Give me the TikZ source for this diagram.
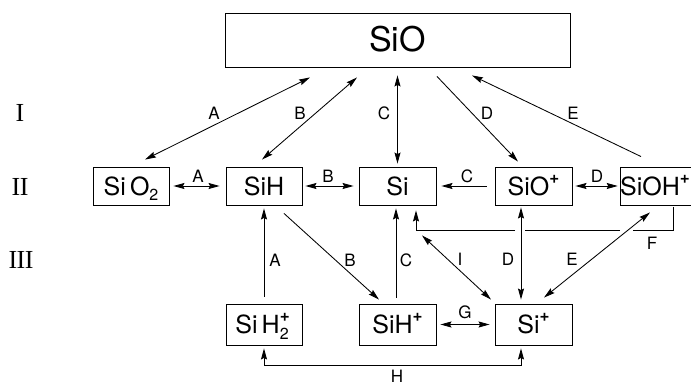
\documentclass[tikz,border=0pt]{standalone}
\usepackage{fontspec}
\setmainfont{TeX Gyre Heros}
\newfontfamily\romanfont{Liberation Serif}
\usetikzlibrary{arrows.meta,calc}
\newcommand{\supp}{\raisebox{0.48em}{\fontsize{17}{17}\selectfont\textbf{+}}}
\newcommand{\stk}{\makebox[0pt][l]{\raisebox{0.5em}{\fontsize{17}{17}\selectfont\textbf{+}}}\raisebox{-0.22em}{\fontsize{16}{16}\selectfont 2}}
\newcommand{\subtwo}{\raisebox{-0.22em}{\fontsize{16}{16}\selectfont 2}}
\begin{document}
\begin{tikzpicture}[x=1pt,y=-1pt,
  box/.style={draw,line width=0.9pt,inner sep=0pt,minimum width=76pt,minimum height=38pt,
    text height=22pt,text depth=4pt,font=\fontsize{25}{25}\selectfont},
  lab/.style={inner sep=0pt,font=\fontsize{17}{17}\selectfont},
  rom/.style={inner sep=0pt,font=\romanfont\fontsize{26}{26}\selectfont},
  conn/.style={line width=0.85pt},
  arr/.style={conn,-{Stealth[length=11pt,width=6pt,inset=1.5pt]}},
  darr/.style={conn,{Stealth[length=11pt,width=6pt,inset=1.5pt]}-{Stealth[length=11pt,width=6pt,inset=1.5pt]}}]
\useasboundingbox (0,0) rectangle (691,385);

% boxes
\node[box,minimum width=345pt,minimum height=54pt,text height=30pt,text depth=6pt,
  font=\fontsize{34}{34}\selectfont] (sio) at (397.5,40) {SiO};
\node[box] (sio2) at (131,186) {Si\,O\subtwo};
\node[box] (sih) at (264,186) {SiH};
\node[box,minimum width=77pt] (si) at (397.5,186) {Si};
\node[box,minimum width=77pt] (siop) at (533.5,186) {SiO\supp};
\node[box,minimum width=78pt] (sioh) at (661,186) {SiOH\supp\kern12pt};
\node[box,minimum height=41pt] (sih2p) at (264,324.5) {Si\,H\stk\kern4pt};
\node[box,minimum width=77pt,minimum height=41pt] (sihp) at (397.5,324.5) {SiH\supp};
\node[box,minimum width=77pt,minimum height=41pt] (sip) at (533.5,324.5) {Si\supp};

% roman numerals
\node[rom] (r1) at (20,113) {I};
\node[rom] (r2) at (20,187) {I\kern-0.5ptI};
\node[rom] (r3) at (21,260) {I\kern-0.5ptI\kern-0.5ptI};

% level I connectors
\draw[darr] ($(sio.south)+(-87.5,10)$) -- ($(sio2.north)+(14,-7)$);
\draw[darr] ($(sio.south)+(-40.5,10)$) -- ($(sih.north)+(-2,-7)$);
\draw[darr] ($(sio.south)+(0,8)$) -- ($(si.north)+(0,-3)$);
\draw[arr] ($(sio.south)+(39.5,9)$) -- ($(siop.north)+(-15.5,-5)$);
\draw[arr] ($(sioh.north)+(-20,-10)$) -- ($(sio.south)+(74.5,8)$);
\node[lab] (la1) at (214,113) {A};
\node[lab] (lb1) at (300,113) {B};
\node[lab] (lc1) at (384,113) {C};
\node[lab] (ld1) at (487,113) {D};
\node[lab] (le1) at (573,113) {E};

% level II horizontal
\draw[darr] ($(sio2.east)+(4,0)$) -- ($(sih.west)+(-6,0)$);
\draw[darr] ($(sih.east)+(3,0)$) -- ($(si.west)+(-5,0)$);
\draw[arr] ($(siop.west)+(-8,0)$) -- ($(si.east)+(5,0)$);
\draw[darr] ($(siop.east)+(3,0)$) -- ($(sioh.west)+(-2,0)$);
\node[lab] (la2) at (198,176) {A};
\node[lab] (lb2) at (328,176) {B};
\node[lab] (lc2) at (467,176) {C};
\node[lab] (ld2) at (597,176) {D};

% level II-III
\draw[arr] ($(sih2p.north)+(0,-7)$) -- ($(sih.south)+(0,3)$);
\draw[arr] ($(sih.south)+(20,8)$) -- ($(sihp.north)+(-18.5,-4)$);
\draw[arr] ($(sihp.north)+(-1.5,-6)$) -- ($(si.south)+(-1.5,3)$);
\draw[darr] ($(sip.north)+(-42.5,-4)$) -- ($(si.south)+(24.5,30)$);
\draw[darr] ($(siop.south)+(-12.5,2)$) -- ($(sip.north)+(-12.5,-4)$);
\draw[darr] ($(sioh.south)+(-11,7)$) -- ($(sip.north)+(10.5,-6)$);
\draw[darr] ($(sihp.east)+(4,0)$) -- ($(sip.west)+(-5,0)$);
\draw[darr] ($(sih2p.south)+(0,3)$) -- ++(0,17) -| ($(sip.south)+(-12.5,3)$);

% F path with gaps
\coordinate (f1) at ($(sioh.south)+(12,2)$);
\coordinate (fc) at ($(f1)+(0,23)$);
\coordinate (ftip) at ($(si.south)+(18.5,5)$);
\coordinate (fl) at (ftip |- fc);
\draw[conn] (f1) -- (fc) -- ($(fc)+(-40,0)$);
\draw[conn] ($(fc)+(-53,0)$) -- ($(fc)+(-148,0)$);
\draw[arr] ($(fc)+(-158,0)$) -- (fl) -- (ftip);

\node[lab] (la3) at (275,260) {A};
\node[lab] (lb3) at (350,260) {B};
\node[lab] (lc3) at (406,260) {C};
\node[lab] (li3) at (460,259) {I};
\node[lab] (ld3) at (508,259) {D};
\node[lab] (le3) at (572,259) {E};
\node[lab] (lf3) at (652,243) {F};
\node[lab] (lg3) at (465,312) {G};
\node[lab] (lh3) at (397,376) {H};
\end{tikzpicture}
\end{document}
